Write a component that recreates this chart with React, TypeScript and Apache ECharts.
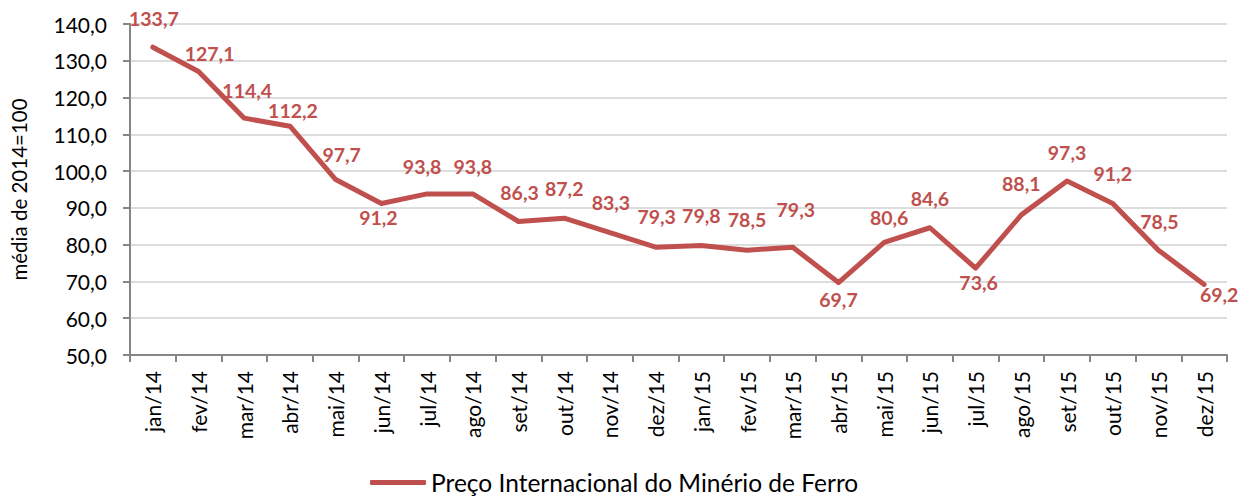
import React, { useEffect, useRef } from "react";
import * as echarts from "echarts";

const categories = [
  "jan/14", "fev/14", "mar/14", "abr/14", "mai/14", "jun/14", "jul/14", "ago/14",
  "set/14", "out/14", "nov/14", "dez/14", "jan/15", "fev/15", "mar/15", "abr/15",
  "mai/15", "jun/15", "jul/15", "ago/15", "set/15", "out/15", "nov/15", "dez/15",
];
const values = [
  133.7, 127.1, 114.4, 112.2, 97.7, 91.2, 93.8, 93.8, 86.3, 87.2, 83.3, 79.3,
  79.8, 78.5, 79.3, 69.7, 80.6, 84.6, 73.6, 88.1, 97.3, 91.2, 78.5, 69.2,
];
const seriesName = "Preço Internacional do Minério de Ferro";
const yAxisName = "média de 2014=100";
const yMin = 50;
const yMax = 140;
const yStep = 10;

// label placement (center offset from point, px) — styling only
const labelOffsets: [number, number][] = [
  [1, -29], [11, -18], [3, -28], [3, -16], [6, -25], [-3, 14], [-5, -27], [0, -27],
  [1, -29], [0, -30], [1, -30], [1, -31], [0, -30], [0, -31], [3, -38], [0, 17],
  [5, -25], [0, -29], [3, 14], [0, -31], [0, -29], [0, -30], [1, -29], [15, 10],
];

const RED = "#C0504D";
const FONT = "Lato";
const fmt = (v: number) => v.toFixed(1).replace(".", ",");

export default function App() {
  const ref = useRef<HTMLDivElement>(null);
  useEffect(() => {
    document.body.style.margin = "0";
    const chart = echarts.init(ref.current!, null, { renderer: "svg" });
    chart.setOption({
      animation: false,
      backgroundColor: "#fff",
      grid: { left: 118, right: 19, top: 24, bottom: 142, containLabel: false },
      legend: {
        top: 470,
        left: 370,
        padding: 0,
        data: [{ name: seriesName, icon: "roundRect" }],
        itemWidth: 56,
        itemHeight: 5,
        textStyle: { fontFamily: FONT, fontSize: 24.5, color: "#000" },
      },
      xAxis: {
        type: "category",
        data: categories,
        boundaryGap: true,
        axisLine: { lineStyle: { color: "#868686", width: 2 } },
        axisTick: { show: true, length: 7, lineStyle: { color: "#868686", width: 2 }, alignWithLabel: false },
        axisLabel: {
          rotate: 90,
          margin: 16,
          interval: 0,
          fontFamily: FONT,
          fontSize: 21,
          color: "#000",
        },
        splitLine: { show: false },
      },
      yAxis: {
        type: "value",
        min: yMin,
        max: yMax,
        interval: yStep,
        name: yAxisName,
        nameLocation: "middle",
        nameGap: 101,
        nameRotate: 90,
        nameTextStyle: { fontFamily: FONT, fontSize: 20.5, color: "#000" },
        axisLine: { show: true, lineStyle: { color: "#868686", width: 2 } },
        axisTick: { show: true, length: 7, lineStyle: { color: "#868686", width: 2 } },
        axisLabel: {
          margin: 23,
          fontFamily: FONT,
          fontSize: 21,
          color: "#000",
          formatter: (v: number) => fmt(v),
        },
        splitLine: { show: true, lineStyle: { color: "#DDDDDD", width: 2 } },
      },
      series: [
        {
          name: seriesName,
          type: "line",
          data: values.map((v, i) => ({
            value: v,
            label: { offset: labelOffsets[i] },
          })),
          symbol: "circle",
          symbolSize: 1,
          showAllSymbol: true,
          itemStyle: { color: RED },
          lineStyle: { color: RED, width: 5, join: "round", cap: "round" },
          label: {
            show: true,
            position: "inside",
            align: "center",
            verticalAlign: "middle",
            fontFamily: FONT,
            fontWeight: "bold",
            fontSize: 19.5,
            color: RED,
            formatter: (p: any) => fmt(p.value),
          },
        },
      ],
    });
    return () => chart.dispose();
  }, []);
  return <div ref={ref} style={{ width: 1246, height: 497 }} />;
}
